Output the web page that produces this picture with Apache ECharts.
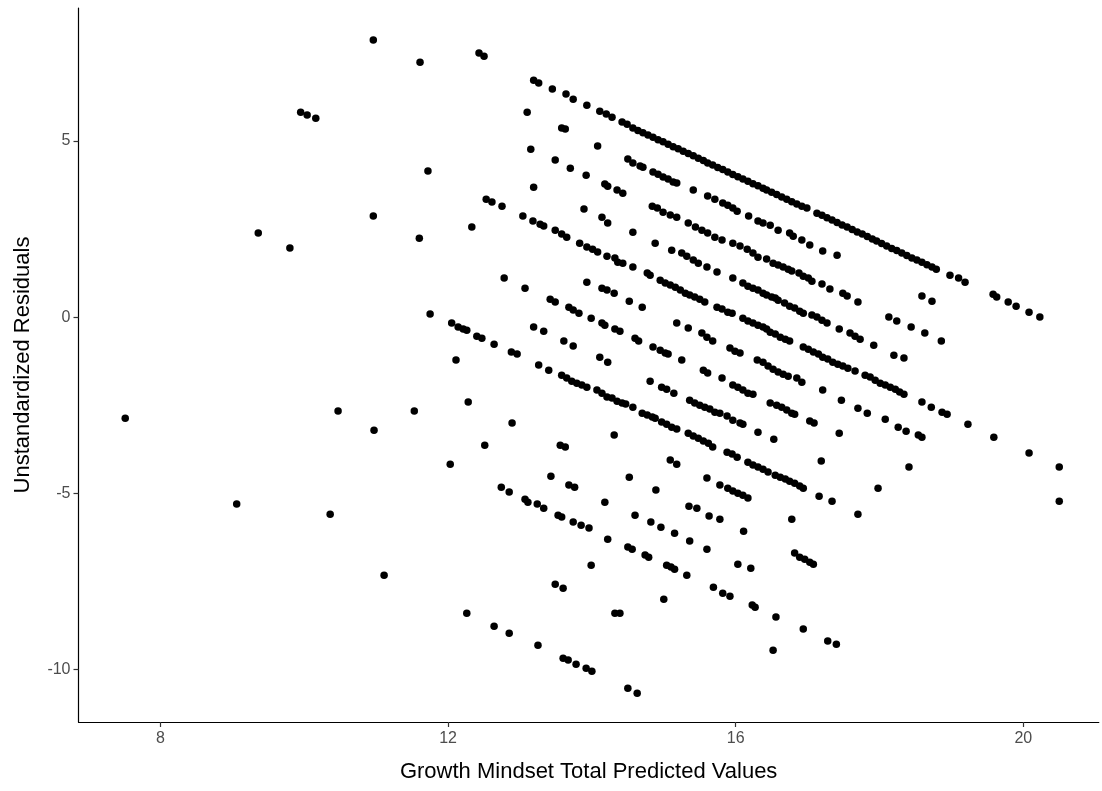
<!DOCTYPE html>
<html>
<head>
<meta charset="utf-8">
<script src="https://cdn.jsdelivr.net/npm/echarts@6/dist/echarts.min.js"></script>
<style>html,body{margin:0;padding:0;background:#fff}#chart{width:1102px;height:791px}</style>
</head>
<body>
<div id="chart"></div>
<script>
// [predicted value, unstandardized residual] pairs
const sparseLeft = [[7.51,-2.87],[9.06,-5.31],[9.36,2.39],[9.80,1.96],[9.95,5.82],[10.04,5.74],[10.16,5.65],[10.36,-5.60],[10.47,-2.67],[10.96,7.87],[10.96,2.87],[10.97,-3.21],[11.11,-7.33],[11.53,-2.67],[11.60,2.24],[11.61,7.24],[11.72,4.15],[11.75,0.09],[12.43,7.50],[12.50,7.41]];
const diag20 = [[13.19,6.73],[13.26,6.65],[13.45,6.48],[13.64,6.34],[13.74,6.19],[13.93,6.02],[14.11,5.85],[14.20,5.77],[14.28,5.68],[14.42,5.54],[14.49,5.48],[14.57,5.37],[14.64,5.30],[14.71,5.24],[14.78,5.17],[14.85,5.11],[14.92,5.04],[14.99,4.98],[15.06,4.91],[15.13,4.84],[15.20,4.78],[15.27,4.71],[15.34,4.65],[15.41,4.58],[15.48,4.51],[15.55,4.45],[15.61,4.38],[15.68,4.32],[15.75,4.25],[15.82,4.19],[15.89,4.12],[15.96,4.05],[16.03,3.99],[16.10,3.92],[16.17,3.86],[16.24,3.79],[16.31,3.73],[16.38,3.66],[16.43,3.61],[16.50,3.55],[16.57,3.48],[16.64,3.41],[16.71,3.35],[16.78,3.28],[16.85,3.21],[16.92,3.15],[16.99,3.10],[17.13,2.95],[17.20,2.89],[17.27,2.82],[17.34,2.76],[17.41,2.69],[17.48,2.62],[17.55,2.56],[17.62,2.49],[17.69,2.42],[17.76,2.36],[17.83,2.29],[17.90,2.22],[17.96,2.16],[18.03,2.09],[18.10,2.02],[18.17,1.95],[18.24,1.89],[18.31,1.82],[18.38,1.75],[18.45,1.68],[18.52,1.62],[18.59,1.56],[18.66,1.49],[18.73,1.42],[18.79,1.36],[18.98,1.19],[19.10,1.11],[19.19,0.99],[19.58,0.65],[19.63,0.57],[19.79,0.43],[19.90,0.31],[20.08,0.14],[20.23,0.00]];
const diag19 = [[13.10,5.82],[13.58,5.37],[13.63,5.34],[14.08,4.86],[14.50,4.49],[14.57,4.38],[14.67,4.29],[14.71,4.26],[14.85,4.12],[14.92,4.06],[14.99,3.98],[15.06,3.92],[15.13,3.84],[15.18,3.81],[15.41,3.61],[15.61,3.44],[15.71,3.35],[15.82,3.24],[15.89,3.18],[15.96,3.10],[16.02,3.01],[16.18,2.87],[16.31,2.73],[16.38,2.67],[16.48,2.61],[16.59,2.47],[16.75,2.39],[16.80,2.30],[16.92,2.19],[17.03,2.05],[17.21,1.88],[17.41,1.76],[18.59,0.60],[18.73,0.45]];
const diag18 = [[13.15,4.77],[13.49,4.46],[13.70,4.23],[13.92,4.03],[14.18,3.78],[14.22,3.72],[14.35,3.61],[14.43,3.52],[14.84,3.15],[14.91,3.10],[14.99,2.98],[15.09,2.90],[15.18,2.84],[15.34,2.67],[15.44,2.56],[15.53,2.47],[15.61,2.39],[15.71,2.27],[15.81,2.19],[15.96,2.10],[16.06,2.02],[16.16,1.93],[16.24,1.82],[16.31,1.70],[16.43,1.65],[16.52,1.53],[16.59,1.48],[16.66,1.42],[16.73,1.36],[16.78,1.31],[16.88,1.25],[16.94,1.16],[17.01,1.11],[17.06,1.02],[17.20,0.94],[17.31,0.80],[17.49,0.68],[17.55,0.60],[17.70,0.43],[18.13,0.00],[18.24,-0.11],[18.44,-0.28],[18.63,-0.45],[18.86,-0.68]];
const diag17 = [[13.19,3.69],[13.89,3.07],[14.14,2.84],[14.22,2.67],[14.57,2.41],[14.88,2.10],[15.11,1.90],[15.25,1.82],[15.32,1.73],[15.41,1.62],[15.48,1.53],[15.60,1.42],[15.74,1.28],[15.96,1.11],[16.10,0.97],[16.17,0.88],[16.24,0.82],[16.31,0.77],[16.38,0.68],[16.43,0.63],[16.50,0.57],[16.55,0.54],[16.59,0.48],[16.68,0.40],[16.75,0.31],[16.82,0.26],[16.89,0.17],[16.94,0.11],[17.06,0.06],[17.13,0.00],[17.20,-0.09],[17.27,-0.17],[17.44,-0.34],[17.59,-0.45],[17.66,-0.54],[17.73,-0.63],[17.92,-0.80],[18.20,-1.08],[18.34,-1.16]];
const diag16 = [[12.53,3.35],[12.61,3.27],[12.75,3.15],[13.04,2.87],[13.18,2.73],[13.28,2.64],[13.33,2.59],[13.49,2.47],[13.58,2.36],[13.65,2.27],[13.83,2.10],[13.93,1.99],[14.01,1.93],[14.08,1.85],[14.21,1.73],[14.32,1.68],[14.36,1.56],[14.43,1.53],[14.57,1.42],[14.77,1.25],[14.81,1.19],[14.95,1.05],[15.02,0.97],[15.09,0.91],[15.16,0.85],[15.23,0.77],[15.30,0.68],[15.36,0.63],[15.43,0.57],[15.50,0.51],[15.57,0.43],[15.74,0.28],[15.81,0.23],[15.89,0.14],[15.95,0.11],[16.10,-0.03],[16.17,-0.11],[16.24,-0.17],[16.31,-0.23],[16.38,-0.28],[16.43,-0.34],[16.48,-0.43],[16.55,-0.48],[16.62,-0.57],[16.69,-0.63],[16.75,-0.68],[16.94,-0.85],[17.01,-0.91],[17.08,-0.99],[17.15,-1.05],[17.21,-1.14],[17.28,-1.19],[17.35,-1.28],[17.42,-1.34],[17.49,-1.39],[17.56,-1.45],[17.66,-1.53],[17.80,-1.65],[17.87,-1.70],[17.94,-1.79],[18.01,-1.88],[18.08,-1.93],[18.15,-1.99],[18.22,-2.05],[18.28,-2.13],[18.34,-2.19],[18.59,-2.41],[18.72,-2.56],[18.87,-2.70],[18.94,-2.76],[19.23,-3.04],[19.59,-3.41],[20.08,-3.86],[20.50,-4.26]];
const diag15 = [[12.33,2.56],[13.93,0.99],[14.14,0.82],[14.21,0.77],[14.31,0.68],[14.52,0.45],[14.70,0.28],[15.18,-0.17],[15.34,-0.31],[15.53,-0.45],[15.60,-0.57],[15.68,-0.68],[15.92,-0.88],[15.99,-0.97],[16.06,-1.02],[16.30,-1.22],[16.38,-1.28],[16.45,-1.39],[16.52,-1.48],[16.59,-1.56],[16.66,-1.62],[16.73,-1.68],[16.85,-1.73],[16.92,-1.85],[17.21,-2.07],[17.47,-2.36],[17.70,-2.59],[17.83,-2.73],[18.08,-2.90],[18.26,-3.13],[18.37,-3.24],[18.54,-3.35],[18.59,-3.41],[20.50,-5.23]];
const diag14 = [[12.78,1.11],[13.07,0.82],[13.42,0.51],[13.49,0.43],[13.68,0.28],[13.74,0.20],[13.82,0.11],[13.99,-0.03],[14.14,-0.17],[14.18,-0.23],[14.32,-0.34],[14.39,-0.40],[14.60,-0.60],[14.65,-0.68],[14.85,-0.85],[14.95,-0.94],[15.02,-1.02],[15.06,-1.05],[15.25,-1.22],[15.55,-1.51],[15.61,-1.59],[15.81,-1.73],[15.96,-1.93],[16.03,-1.99],[16.10,-2.07],[16.17,-2.16],[16.24,-2.19],[16.48,-2.44],[16.57,-2.50],[16.64,-2.56],[16.71,-2.64],[16.78,-2.73],[16.82,-2.76],[17.03,-2.95],[17.09,-3.01],[17.44,-3.30],[18.41,-4.26]];
const diag13 = [[13.19,-0.28],[13.33,-0.40],[13.61,-0.68],[13.74,-0.82],[14.11,-1.14],[14.22,-1.28],[14.81,-1.82],[14.97,-1.99],[15.04,-2.05],[15.14,-2.16],[15.36,-2.36],[15.43,-2.44],[15.50,-2.50],[15.57,-2.56],[15.64,-2.61],[15.71,-2.70],[15.78,-2.73],[15.88,-2.81],[15.96,-2.93],[16.06,-3.01],[16.10,-3.04],[16.31,-3.27],[16.53,-3.47],[17.19,-4.09],[17.98,-4.86]];
const diag12 = [[12.05,-0.17],[12.14,-0.28],[12.21,-0.34],[12.26,-0.37],[12.40,-0.54],[12.47,-0.60],[12.64,-0.77],[12.88,-0.99],[12.96,-1.05],[13.26,-1.36],[13.40,-1.51],[13.58,-1.65],[13.65,-1.73],[13.72,-1.82],[13.79,-1.88],[13.86,-1.93],[13.93,-1.99],[14.07,-2.07],[14.14,-2.16],[14.21,-2.27],[14.28,-2.30],[14.35,-2.39],[14.42,-2.44],[14.47,-2.47],[14.57,-2.56],[14.70,-2.73],[14.77,-2.78],[14.84,-2.84],[14.88,-2.87],[14.97,-2.98],[15.04,-3.04],[15.11,-3.13],[15.18,-3.18],[15.34,-3.30],[15.41,-3.38],[15.48,-3.44],[15.55,-3.52],[15.62,-3.58],[15.68,-3.69],[15.88,-3.84],[15.95,-3.89],[16.02,-3.98],[16.17,-4.12],[16.24,-4.20],[16.31,-4.26],[16.38,-4.32],[16.45,-4.40],[16.55,-4.49],[16.62,-4.55],[16.69,-4.60],[16.75,-4.66],[16.82,-4.72],[16.89,-4.80],[16.94,-4.86],[17.16,-5.09],[17.34,-5.23]];
const lowerPoints = [[12.11,-1.22],[12.28,-2.41],[12.89,-3.01],[12.51,-3.64],[13.56,-3.64],[13.63,-3.69],[12.03,-4.18],[13.43,-4.52],[14.31,-3.35],[15.09,-4.06],[15.18,-4.18],[14.52,-4.55],[15.60,-4.57],[17.70,-5.60],[16.78,-5.74],[14.89,-4.91],[15.78,-4.77],[15.89,-4.86],[15.96,-4.94],[16.03,-5.00],[16.10,-5.06],[16.17,-5.14],[15.35,-5.37],[15.46,-5.43],[15.63,-5.65],[15.78,-5.74],[14.60,-5.63],[14.82,-5.82],[14.96,-5.97],[15.15,-6.14],[15.36,-6.36],[15.60,-6.59],[16.11,-6.08],[14.50,-6.53],[14.56,-6.59],[14.74,-6.76],[14.79,-6.82],[15.04,-7.05],[15.10,-7.10],[15.15,-7.16],[15.32,-7.33],[16.03,-7.02],[16.21,-7.13],[15.69,-7.67],[15.82,-7.84],[15.92,-7.93],[16.23,-8.18],[16.27,-8.24],[15.00,-8.01],[14.32,-8.41],[14.39,-8.41],[14.50,-10.54],[14.63,-10.68],[12.74,-4.83],[12.85,-4.97],[13.68,-4.77],[13.76,-4.83],[14.18,-5.26],[13.07,-5.17],[13.11,-5.26],[13.24,-5.31],[13.33,-5.43],[13.53,-5.63],[13.58,-5.68],[13.74,-5.82],[13.85,-5.91],[13.96,-5.99],[14.22,-6.31],[13.99,-7.05],[13.49,-7.59],[13.60,-7.70],[12.26,-8.41],[12.64,-8.78],[12.85,-8.98],[13.25,-9.32],[13.60,-9.69],[13.67,-9.74],[13.78,-9.86],[13.92,-9.97],[14.00,-10.06],[16.82,-6.70],[16.89,-6.82],[16.96,-6.88],[17.03,-6.96],[17.08,-7.02],[16.56,-8.52],[16.94,-8.86],[17.28,-9.20],[17.40,-9.29],[16.52,-9.46]];

const xTicks = [8, 12, 16, 20];
const yTicks = [-10, -5, 0, 5];
const xTitle = 'Growth Mindset Total Predicted Values';
const yTitle = 'Unstandardized Residuals';

const allPoints = [].concat(sparseLeft, diag20, diag19, diag18, diag17, diag16, diag15, diag14, diag13, diag12, lowerPoints);

const chart = echarts.init(document.getElementById('chart'), null, {renderer: 'canvas'});
const font = 'Liberation Sans, Arial, sans-serif';
chart.setOption({
  animation: false,
  backgroundColor: '#ffffff',
  grid: {left: 78.5, right: 3.2, top: 8, bottom: 69, containLabel: false},
  xAxis: {
    type: 'value', min: 6.86, max: 21.05,
    name: xTitle, nameLocation: 'middle', nameGap: 39,
    nameTextStyle: {fontSize: 22, color: '#000', fontFamily: font},
    axisLine: {show: true, onZero: false, lineStyle: {color: '#000', width: 1.2}},
    axisTick: {show: true, length: 5, customValues: xTicks, lineStyle: {color: '#333', width: 1.2}},
    axisLabel: {customValues: xTicks, color: '#4D4D4D', fontSize: 16, margin: 9, fontFamily: font},
    splitLine: {show: false}
  },
  yAxis: {
    type: 'value', min: -11.5, max: 8.78,
    name: yTitle, nameLocation: 'middle', nameGap: 45,
    nameTextStyle: {fontSize: 22, color: '#000', fontFamily: font},
    axisLine: {show: true, onZero: false, lineStyle: {color: '#000', width: 1.2}},
    axisTick: {show: true, length: 5, customValues: yTicks, lineStyle: {color: '#333', width: 1.2}},
    axisLabel: {customValues: yTicks, color: '#4D4D4D', fontSize: 16, margin: 8, fontFamily: font},
    splitLine: {show: false}
  },
  series: [{
    type: 'scatter',
    data: allPoints,
    symbol: 'circle',
    symbolSize: 7.5,
    itemStyle: {color: '#000', opacity: 1},
    silent: true
  }]
});
</script>
</body>
</html>
